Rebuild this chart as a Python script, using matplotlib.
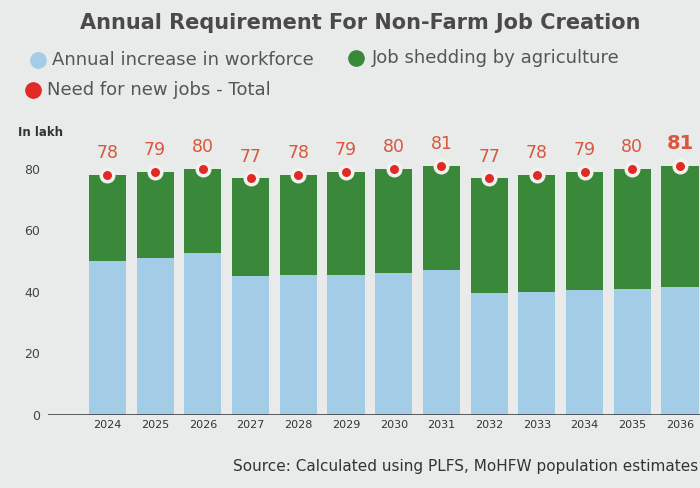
import matplotlib.pyplot as plt
from matplotlib.lines import Line2D

years = ['2024', '2025', '2026', '2027', '2028', '2029', '2030',
         '2031', '2032', '2033', '2034', '2035', '2036']
workforce = [50, 51, 52.5, 45, 45.5, 45.5, 46, 47, 39.5, 40, 40.5, 41, 41.5]
total = [78, 79, 80, 77, 78, 79, 80, 81, 77, 78, 79, 80, 81]
agri = [t - w for t, w in zip(total, workforce)]

bg = '#e8ebea'
blue = '#a3cce6'
green = '#3a893b'
red = '#e12a26'
label_red = '#d9573c'
txt = '#555555'

fig = plt.figure(figsize=(7, 4.88), dpi=100, facecolor=bg)
ax = fig.add_axes([0.069, 0.15, 0.931, 0.555], facecolor=bg)

x = range(len(years))
ax.bar(x, workforce, width=0.78, color=blue)
ax.bar(x, agri, width=0.78, bottom=workforce, color=green)
ax.plot(x, total, 'o', color=red, ms=9, mec='#f3f1ee', mew=2.5, zorder=5, clip_on=False)

for i, t in enumerate(total):
    last = i == len(total) - 1
    ax.text(i, t + 4.0, str(t), ha='center', va='bottom', color=label_red,
            fontsize=14 if last else 12.5, fontweight='bold' if last else 'normal', clip_on=False)

ax.set_xlim(-1.24, 12.42)
ax.set_ylim(0, 88)
ax.set_yticks([0, 20, 40, 60, 80])
ax.set_xticks(list(x))
ax.set_xticklabels(years, fontsize=8, color='#333333')
ax.tick_params(axis='y', length=0, labelsize=9, labelcolor='#444444', pad=6)
ax.tick_params(axis='x', length=0, pad=4)
for s in ax.spines.values():
    s.set_visible(False)
ax.axhline(0, color='#444444', lw=1.2)

fig.text(0.025, 0.722, 'In lakh', fontsize=8.5, color='#333333', fontweight='bold')

fig.text(0.514, 0.952, 'Annual Requirement For Non-Farm Job Creation', ha='center', va='center',
         fontsize=15, fontweight='bold', color='#4a4a4a')

# legend
fig.add_artist(Line2D([0.054], [0.877], marker='o', ms=11, color=blue, transform=fig.transFigure))
fig.text(0.074, 0.877, 'Annual increase in workforce', va='center', fontsize=13, color=txt)
fig.add_artist(Line2D([0.508], [0.882], marker='o', ms=11, color=green, transform=fig.transFigure))
fig.text(0.532, 0.882, 'Job shedding by agriculture', va='center', fontsize=13, color=txt)
fig.add_artist(Line2D([0.047], [0.815], marker='o', ms=11, color=red, transform=fig.transFigure))
fig.text(0.067, 0.815, 'Need for new jobs - Total', va='center', fontsize=13, color=txt)

fig.text(0.998, 0.045, 'Source: Calculated using PLFS, MoHFW population estimates', ha='right',
         va='center', fontsize=11, color='#333333')

fig.savefig('out.png', dpi=100, facecolor=bg)
